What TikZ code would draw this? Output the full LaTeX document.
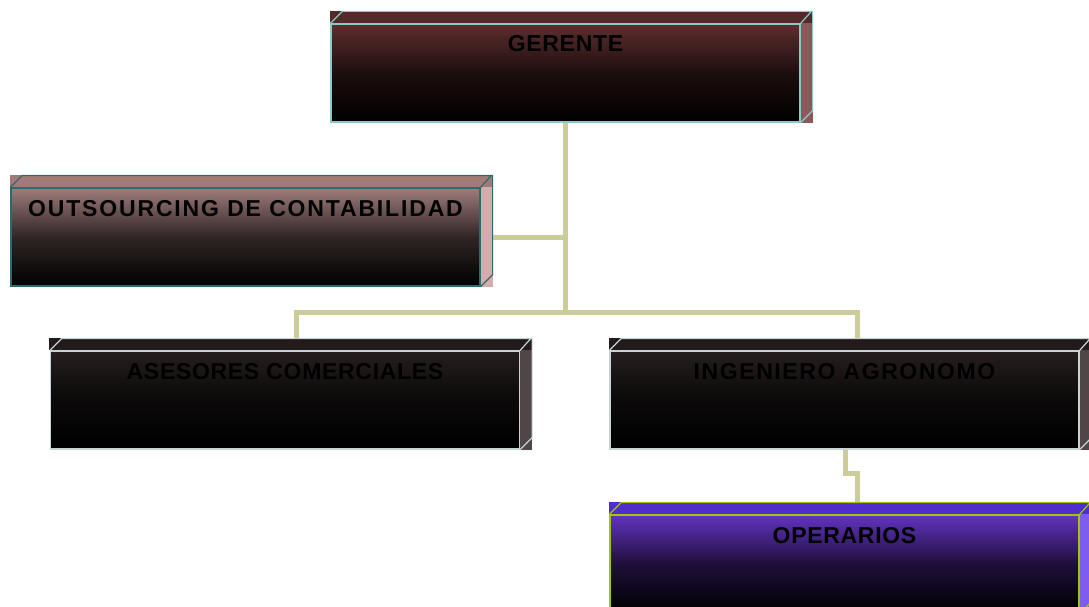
\documentclass[tikz,border=0pt]{standalone}
\usepackage{fontspec}
\setmainfont{Liberation Sans}
\usetikzlibrary{backgrounds}
\definecolor{cLine}{HTML}{CCCC99}
\definecolor{gerTop}{HTML}{5E2E2E}
\definecolor{gerStrip}{HTML}{55292A}
\definecolor{gerSide}{HTML}{8A5A5A}
\definecolor{gerEdge}{HTML}{8CC8C8}
\definecolor{outTop}{HTML}{A07C7C}
\definecolor{outStrip}{HTML}{A27A78}
\definecolor{outSide}{HTML}{D4ACAC}
\definecolor{outEdge}{HTML}{2E6A6A}
\definecolor{aseTop}{HTML}{261E1E}
\definecolor{aseStrip}{HTML}{231A1B}
\definecolor{aseSide}{HTML}{4F4747}
\definecolor{aseEdge}{HTML}{C8D4D4}
\definecolor{opeTop}{HTML}{6233C0}
\definecolor{opeStrip}{HTML}{4F2ECC}
\definecolor{opeSide}{HTML}{7F5CF0}
\definecolor{opeEdge}{HTML}{9CC800}

\begin{document}
\begin{tikzpicture}[
  x=1pt, y=-1pt,
  caja/.style={rectangle, draw=#1Edge, line width=1.2pt, top color=#1Top, bottom color=black,
    middle color=#1Top!30!black, minimum width=469pt, inner sep=0pt, text height=28pt, text depth=70pt,
    font=\fontsize{23}{27}\selectfont\bfseries\addfontfeature{LetterSpace=3}, text=black},
  ancho/.style={font=\fontsize{23}{27}\selectfont\bfseries\addfontfeature{LetterSpace=#1}},
  enlace/.style={draw=cLine, line width=5pt}
]
\useasboundingbox (0,0) rectangle (1089,607);

\node[caja=ger] (ger) at (565.5,73) {GERENTE};
\node[caja=out, ancho=8] (out) at (245.5,237) {OUTSOURCING DE CONTABILIDAD};
\node[caja=ase] (ase) at (285,400) {ASESORES COMERCIALES};
\node[caja=ase, ancho=7] (ing) at (844.5,400) {INGENIERO AGRONOMO};
\node[caja=ope] (ope) at (844.5,564) {OPERARIOS};

% bisel 3D
\foreach \n/\c in {ger/ger, out/out, ase/ase, ing/ase, ope/ope}{
  \fill[\c Strip] ([xshift=-0.6pt]\n.north west) rectangle ([shift={(12,-12)}]\n.north east);
  \fill[\c Side] (\n.north east) rectangle ([shift={(12,0.6)}]\n.south east);
  \draw[\c Edge, line width=1.2pt] (\n.north west) -- ++(12,-12) -- ++(469,0) -- (\n.north east)
    ++(12,-12) -- ([shift={(12,-12)}]\n.south east) -- (\n.south east);
}

% conexiones
\coordinate (j1) at (565.5,237);
\coordinate (j2) at (565.5,312);
\begin{pgfonlayer}{background}
\draw[enlace] (ger.south) -- (j2);
\draw[enlace] (out.east) -- (j1);
\draw[enlace] (j2) -| ([xshift=11]ase.north);
\draw[enlace] (j2) -| ([xshift=13]ing.north);
\draw[enlace] ([xshift=1]ing.south) -- ++(0,24) -| ([xshift=13]ope.north);
\end{pgfonlayer}
\end{tikzpicture}
\end{document}
